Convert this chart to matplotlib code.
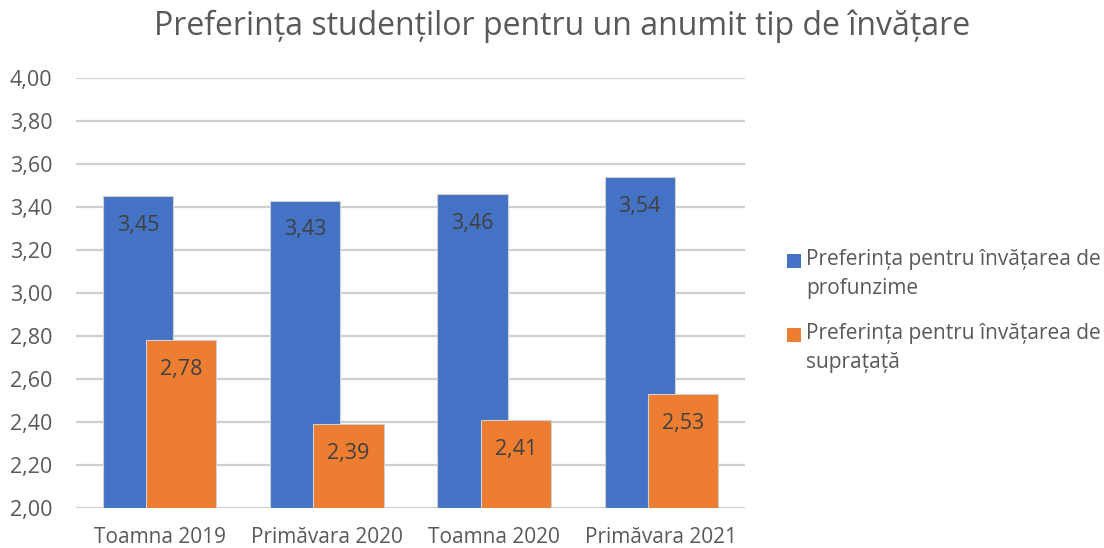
import matplotlib
matplotlib.use("Agg")
import matplotlib.pyplot as plt
import numpy as np
from matplotlib.patches import Rectangle

categories = ["Toamna 2019", "Primăvara 2020", "Toamna 2020", "Primăvara 2021"]
deep = [3.45, 3.43, 3.46, 3.54]
surface = [2.78, 2.39, 2.41, 2.53]
series_names = ["Preferința pentru învățarea de\nprofunzime",
                "Preferința pentru învățarea de\nsuprațață"]
yticks = [2.0, 2.2, 2.4, 2.6, 2.8, 3.0, 3.2, 3.4, 3.6, 3.8, 4.0]

plt.rcParams['font.family'] = ['Open Sans', 'DejaVu Sans']
TXT = '#595959'
BLUE = '#4472C4'
ORANGE = '#ED7D31'
colors = [BLUE, ORANGE]

W, H = 1104, 548
fig = plt.figure(figsize=(W/100, H/100), dpi=100)
ax = fig.add_axes([76/W, 1-508/H, (745-76)/W, (508-78)/H])

x = np.arange(len(categories))
w = 0.42
off = 0.13
b1 = ax.bar(x - off, deep, w, color=BLUE, edgecolor='#d0d0d0', linewidth=0.8, zorder=3)
b2 = ax.bar(x + off, surface, w, color=ORANGE, edgecolor='#d0d0d0', linewidth=0.8, zorder=4)

for bars, vals in ((b1, deep), (b2, surface)):
    for r, v in zip(bars, vals):
        ax.annotate(f"{v:.2f}".replace('.', ','), (r.get_x() + r.get_width()/2, v),
                    xytext=(0, -21), textcoords='offset points', ha='center', va='center',
                    fontsize=15.5, color='#404040', zorder=5)

ax.set_ylim(2.0, 4.0)
ax.set_xlim(-0.5, len(categories) - 0.5)
ax.set_yticks(yticks)
ax.set_yticklabels([f"{t:.2f}".replace('.', ',') for t in yticks])
ax.set_xticks(x)
ax.set_xticklabels(categories)
ax.tick_params(axis='both', length=0, colors=TXT)
ax.tick_params(axis='y', labelsize=15.5, pad=17)
ax.tick_params(axis='x', labelsize=15, pad=14)
ax.grid(axis='y', color='#cfcfcf', linewidth=1.6, zorder=0)
for s in ax.spines.values():
    s.set_visible(False)

fig.text(562/W, 1-26/H, "Preferința studenților pentru un anumit tip de învățare",
         ha='center', va='center', fontsize=23, color=TXT)

# legend (drawn manually so the marker lines up with the first text line)
for i, (name, c) in enumerate(zip(series_names, colors)):
    yc = 261 + 74*i
    fig.add_artist(Rectangle((787/W, 1-(yc+7)/H), 14/W, 14/H, transform=fig.transFigure,
                             facecolor=c, edgecolor='none'))
    fig.text(806/W, 1-(yc+13)/H, name, ha='left', va='center', fontsize=15,
             color=TXT, linespacing=1.5)

fig.savefig("out.png", dpi=100, facecolor='white')
